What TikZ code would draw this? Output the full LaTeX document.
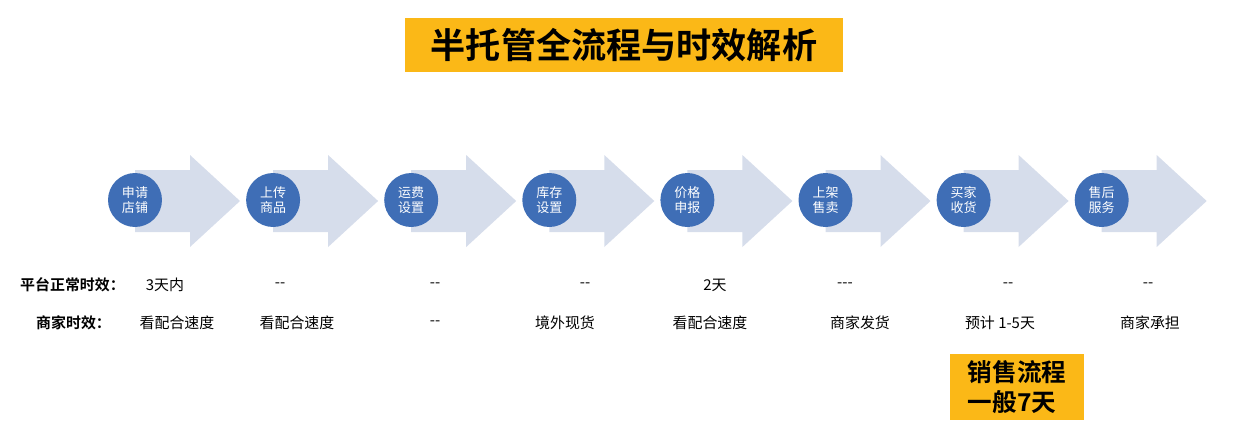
\documentclass[tikz,border=0pt]{standalone}
\usepackage{fontspec}
\newfontfamily\cjk{Noto Sans CJK SC}
\newfontfamily\cjkb{Noto Sans CJK SC Bold}
\definecolor{tagyellow}{HTML}{FBB817}
\definecolor{stepblue}{HTML}{3F6EB6}
\definecolor{arrowgrey}{HTML}{D6DDEB}
\begin{document}
\begin{tikzpicture}[x=0.02cm,y=-0.02cm]
\tikzset{
  stepdot/.style={circle,fill=stepblue,minimum size=1.08cm,inner sep=0pt,text=white,font=\cjk\fontsize{7.4}{8.6}\selectfont,align=center},
  rowtext/.style={font=\cjk\fontsize{8.5}{10}\selectfont,anchor=center},
  rowhead/.style={font=\cjkb\fontsize{8.5}{10}\selectfont,anchor=west}
}
\useasboundingbox (0,0) rectangle (1242,444);
% title
\node[fill=tagyellow,minimum width=8.76cm,minimum height=1.08cm,font=\cjkb\fontsize{20}{24}\selectfont] (title) at (624,45) {半托管全流程与时效解析};
% steps
\foreach \i/\lbl in {0/申请\\店铺,1/上传\\商品,2/运费\\设置,3/库存\\设置,4/价格\\申报,5/上架\\售卖,6/买家\\收货,7/售后\\服务}{
  \pgfmathsetmacro{\cx}{135+138.1*\i}
  \fill[arrowgrey] (\cx,170) -- (\cx+55,170) -- (\cx+55,155) -- (\cx+105,201)
    -- (\cx+55,247) -- (\cx+55,232) -- (\cx,232) -- cycle;
  \node[stepdot] (s\i) at (\cx,200) {\lbl};
}
% rows
\node[rowhead] (plat) at (14,285) {平台正常时效：};
\node[rowhead] (merch) at (30,323) {商家时效：};
\foreach \x/\t [count=\k] in {165/3天内,280/--,435/--,585/--,715/2天,845/---,1008/--,1148/--}
  \node[rowtext] (p\k) at (\x,285) {\t};
\foreach \x/\t [count=\k] in {177/看配合速度,297/看配合速度,435/--,565/境外现货,710/看配合速度,860/商家发货,1000/预计 1-5天,1150/商家承担}
  \node[rowtext] (m\k) at (\x,323) {\t};
% note
\node[fill=tagyellow,minimum width=2.7cm,minimum height=1.32cm,inner sep=0pt,align=left,font=\cjkb\fontsize{14}{17}\selectfont] (note) at (1017,387) {销售流程\\一般7天};
\end{tikzpicture}
\end{document}
